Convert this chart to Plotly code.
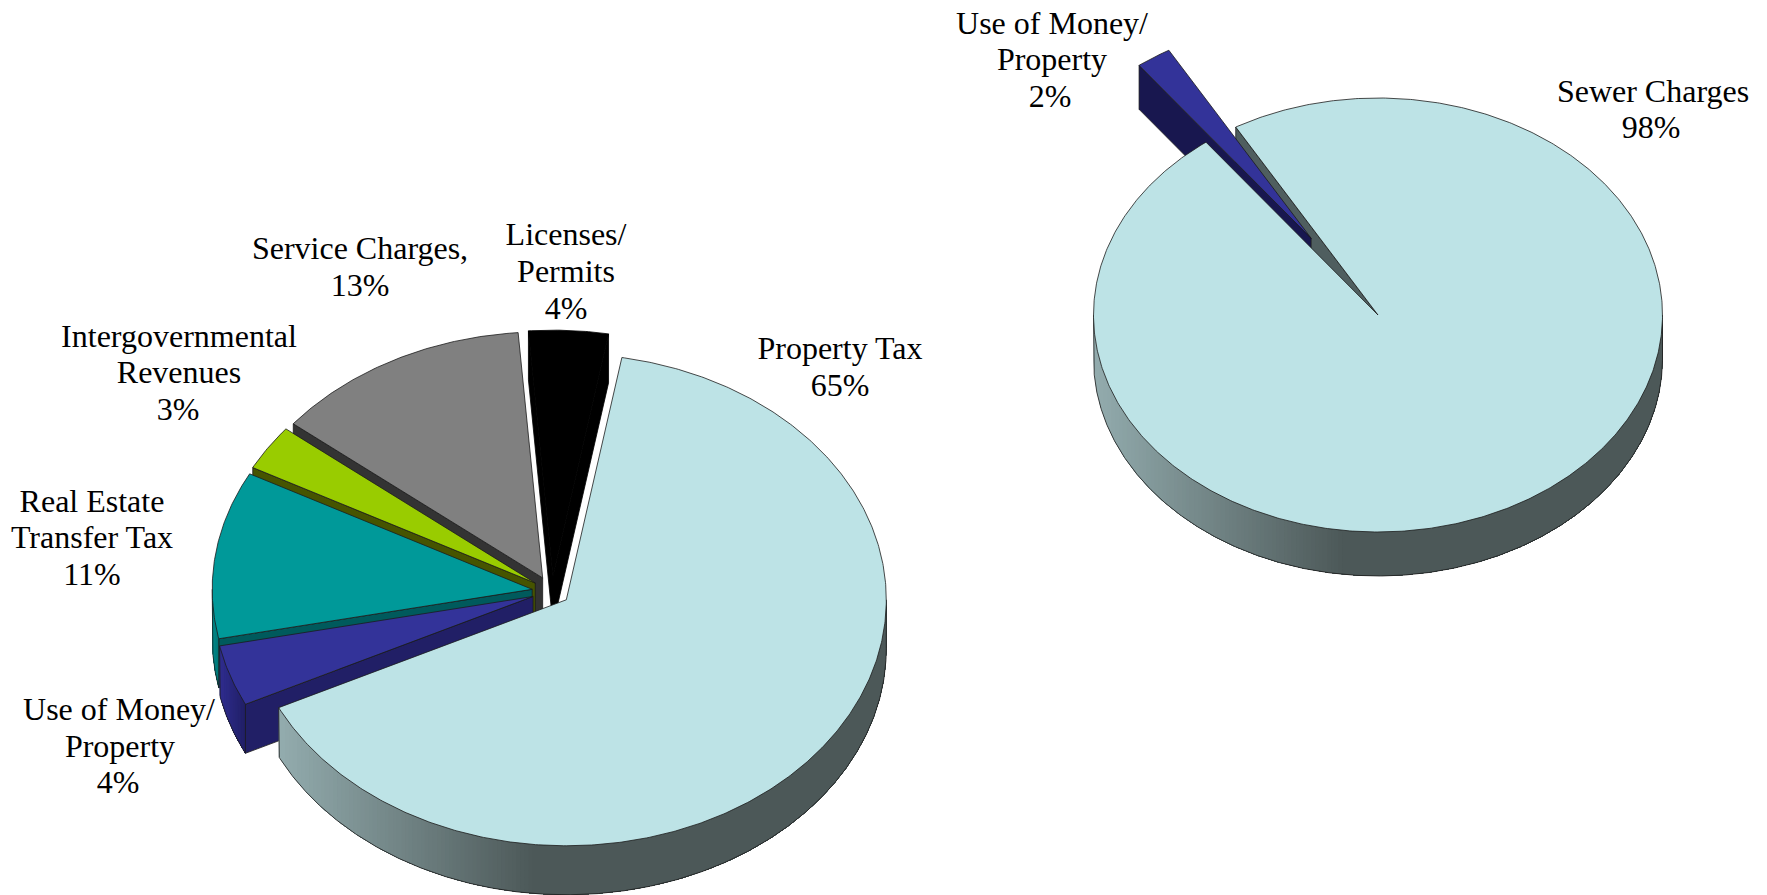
import math
import plotly.graph_objects as go

# ---------- data ----------
LEFT_CATEGORIES = ["Property Tax", "Use of Money/Property", "Real Estate Transfer Tax",
                   "Intergovernmental Revenues", "Service Charges", "Licenses/Permits"]
LEFT_VALUES = [65, 4, 11, 3, 13, 4]
RIGHT_CATEGORIES = ["Sewer Charges", "Use of Money/Property"]
RIGHT_VALUES = [98, 2]

# ---------- label text ----------
LABEL_LINES = ["Property Tax", "65%", "Licenses/", "Permits", "4%", "Service Charges,", "13%",
               "Intergovernmental", "Revenues", "3%", "Real Estate", "Transfer Tax", "11%",
               "Use of Money/", "Property", "4%", "Use of Money/", "Property", "2%",
               "Sewer Charges", "98%"]
LABEL_X = [840, 840, 566, 566, 566, 360, 360, 179, 179, 178, 92, 92, 92,
           119, 120, 118, 1052, 1052, 1050, 1653, 1651]
LABEL_Y = [351, 388, 237, 274, 311, 251, 288, 339, 375, 412, 504, 540, 577,
           712, 749, 785, 26, 62, 99, 94, 130]

# ---------- geometry / style ----------
LEFT_GEOM = dict(cx=552, cy=591.5, rx=320, ry=246, depth=49, start=10)
RIGHT_GEOM = dict(cx=1378, cy=315, rx=284.5, ry=217, depth=44, start=330)
LEFT_EXPLODE = [0.056, 0.0625, 0.0625, 0.0625, 0.0625, 0.0625]
RIGHT_EXPLODE = [0.0, 0.425]
LEFT_TOP = ["#BDE3E6", "#333399", "#009999", "#99CC00", "#808080", "#000000"]
LEFT_EDGE = ["#4C5858", "#211F66", "#005A5C", "#465400", "#333333", "#000000"]
LEFT_LIGHT = ["#93ACAE", "#302E8F", "#008B8B", "#465400", "#333333", "#000000"]
LEFT_DARK = ["#4C5858", "#211F66", "#007575", "#465400", "#333333", "#000000"]
LEFT_SPAN = [0.42, 1, 1, 1, 1, 1]
LEFT_OUTLINE = ["#1c1c1c", "#1c1c1c", "#1c1c1c", "#1c1c1c", "#1c1c1c", "#000000"]
RIGHT_TOP = ["#BDE3E6", "#333399"]
RIGHT_EDGE = ["#4F5E5F", "#18174F"]
RIGHT_LIGHT = ["#93ACAE", "#302E8F"]
RIGHT_DARK = ["#4C5858", "#18174F"]
RIGHT_SPAN = [0.44, 1]
RIGHT_OUTLINE = ["#1c1c1c", "#1c1c1c"]
OUTLINE_W = 0.8

fig = go.Figure()


def poly(xs, ys, fill, line=None, width=0.0):
    fig.add_trace(go.Scatter(
        x=xs, y=ys, mode="lines", fill="toself", fillcolor=fill,
        line=dict(color=line or fill, width=width), hoverinfo="skip", showlegend=False))


def stroke(xs, ys, color):
    fig.add_trace(go.Scatter(
        x=xs, y=ys, mode="lines", line=dict(color=color, width=OUTLINE_W),
        hoverinfo="skip", showlegend=False))


def rgb(h):
    return [int(h[i:i + 2], 16) for i in (1, 3, 5)]


def mix(a, b, t):
    ca, cb = rgb(a), rgb(b)
    return "rgb(%d,%d,%d)" % tuple(round(x + (y - x) * t) for x, y in zip(ca, cb))


def slices(values, geom, explode):
    total = sum(values)
    a = geom["start"]
    out = []
    for v, e in zip(values, explode):
        w = 360 * v / total
        mid = math.radians(a + w / 2)
        dist = e * geom["rx"]
        out.append(dict(a=a, b=a + w,
                        cx=geom["cx"] + dist * math.sin(mid),
                        cy=geom["cy"] - dist * geom["ry"] / geom["rx"] * math.cos(mid)))
        a += w
    return out


def rim(s, geom, deg, dz=0):
    r = math.radians(deg)
    return s["cx"] + geom["rx"] * math.sin(r), s["cy"] - geom["ry"] * math.cos(r) + dz


def arc(lo, hi, step=0.5):
    n = max(2, int(abs(hi - lo) / step) + 1)
    return [lo + (hi - lo) * i / (n - 1) for i in range(n)]


def draw_walls(s, geom, edge, light, dark, span, outline):
    d = geom["depth"]
    # straight cut faces that turn toward the viewer
    if math.sin(math.radians(s["a"])) < 0:
        rx_, ry_ = rim(s, geom, s["a"])
        poly([s["cx"], rx_, rx_, s["cx"], s["cx"]],
             [s["cy"], ry_, ry_ + d, s["cy"] + d, s["cy"]], edge, outline, OUTLINE_W)
    if math.sin(math.radians(s["b"])) > 0:
        rx_, ry_ = rim(s, geom, s["b"])
        poly([s["cx"], rx_, rx_, s["cx"], s["cx"]],
             [s["cy"], ry_, ry_ + d, s["cy"] + d, s["cy"]], edge, outline, OUTLINE_W)
    # curved outer wall: nested layers, each darker one covering everything to its right
    for k in (0, 360):
        lo, hi = max(s["a"], 90 + k), min(s["b"], 270 + k)
        if hi <= lo:
            continue
        degs = arc(hi, lo, 0.25)  # x grows along this list
        px = [rim(s, geom, t)[0] for t in degs]
        x0, x1 = px[0], px[-1]
        levels = 64
        done = -1
        for i, x in enumerate(px):
            q = min(1.0, (x - x0) / max(1e-6, span * (x1 - x0)))
            q = round(q * levels)
            if q == done:
                continue
            done = q
            ts = degs[i:]
            top = [rim(s, geom, t) for t in ts]
            bot = [rim(s, geom, t, d) for t in reversed(ts)]
            poly([p[0] for p in top + bot] + [top[0][0]],
                 [p[1] for p in top + bot] + [top[0][1]],
                 mix(light, dark, q / levels))
        bottom = [rim(s, geom, t, d) for t in degs]
        e0 = rim(s, geom, degs[0])
        e1 = rim(s, geom, degs[-1])
        stroke([e0[0]] + [p[0] for p in bottom] + [e1[0]],
               [e0[1]] + [p[1] for p in bottom] + [e1[1]], outline)


def draw_top(s, geom, color, outline):
    pts = [rim(s, geom, t) for t in arc(s["a"], s["b"])]
    xs = [s["cx"]] + [p[0] for p in pts] + [s["cx"]]
    ys = [s["cy"]] + [p[1] for p in pts] + [s["cy"]]
    poly(xs, ys, color, outline, OUTLINE_W)


# left pie, back to front
left = slices(LEFT_VALUES, LEFT_GEOM, LEFT_EXPLODE)
for i in [5, 4, 3, 2, 1, 0]:
    draw_walls(left[i], LEFT_GEOM, LEFT_EDGE[i], LEFT_LIGHT[i], LEFT_DARK[i], LEFT_SPAN[i], LEFT_OUTLINE[i])
    draw_top(left[i], LEFT_GEOM, LEFT_TOP[i], LEFT_OUTLINE[i])

# right pie
right = slices(RIGHT_VALUES, RIGHT_GEOM, RIGHT_EXPLODE)
for i in [0, 1]:
    draw_walls(right[i], RIGHT_GEOM, RIGHT_EDGE[i], RIGHT_LIGHT[i], RIGHT_DARK[i], RIGHT_SPAN[i], RIGHT_OUTLINE[i])
draw_top(right[1], RIGHT_GEOM, RIGHT_TOP[1], RIGHT_OUTLINE[1])
draw_top(right[0], RIGHT_GEOM, RIGHT_TOP[0], RIGHT_OUTLINE[0])

fig.add_trace(go.Scatter(
    x=LABEL_X, y=LABEL_Y, text=LABEL_LINES, mode="text", textposition="middle center",
    textfont=dict(family="Liberation Serif", size=32, color="#000000"),
    hoverinfo="skip", showlegend=False))

fig.update_layout(
    width=1767, height=895, margin=dict(l=0, r=0, t=0, b=0),
    paper_bgcolor="#FFFFFF", plot_bgcolor="#FFFFFF", showlegend=False,
    xaxis=dict(range=[0, 1767], visible=False, fixedrange=True),
    yaxis=dict(range=[895, 0], visible=False, fixedrange=True),
)
fig.write_html("out.html", config=dict(displayModeBar=False),
               post_script="document.body.style.margin='0';document.body.style.overflow='hidden';")
